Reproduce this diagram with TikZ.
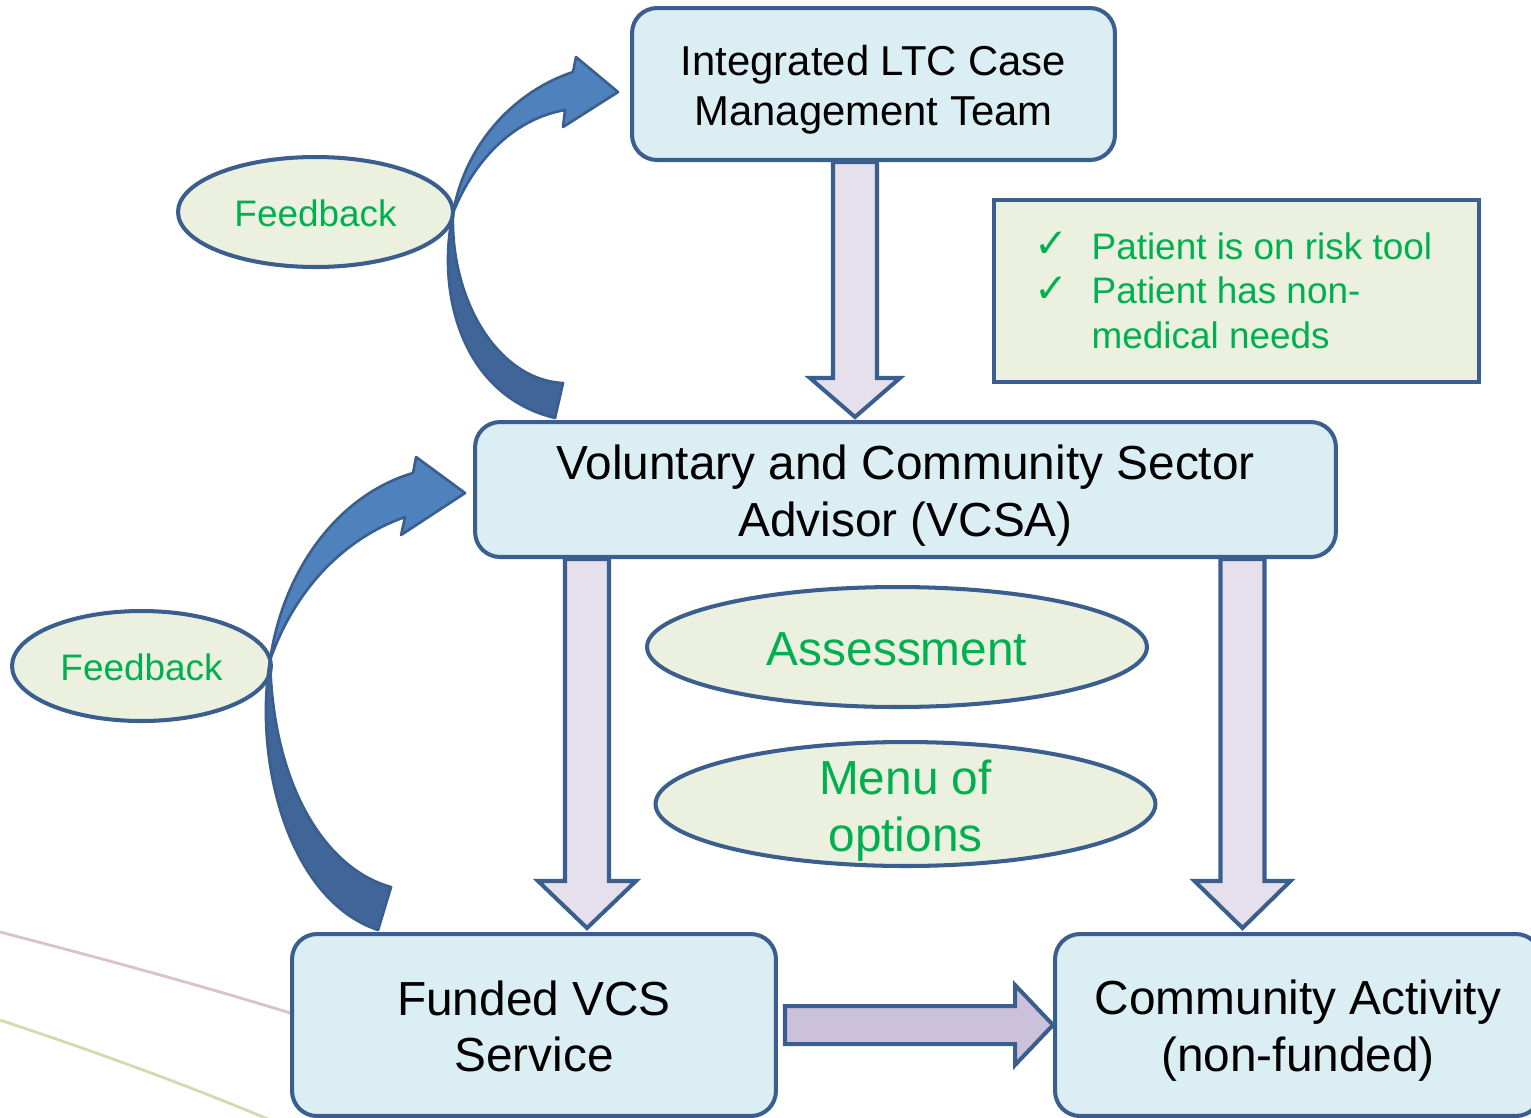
\documentclass[tikz,border=0pt]{standalone}
\usepackage{fontspec}
\setmainfont{Liberation Sans}
\newfontfamily\symfont{DejaVu Sans}
\usetikzlibrary{calc,shapes.geometric}

\definecolor{edgeblue}{HTML}{3A5F8E}
\definecolor{boxfill}{HTML}{DBEEF4}
\definecolor{notefill}{HTML}{EBF1DE}
\definecolor{txtgreen}{HTML}{00B050}
\definecolor{dnfill}{HTML}{E5E0EC}
\definecolor{rtfill}{HTML}{CCC1DA}
\definecolor{curvelight}{HTML}{4F81BD}
\definecolor{curvedark}{HTML}{3F6599}
\definecolor{swishpink}{HTML}{D9C2CD}
\definecolor{swishgreen}{HTML}{D3DAAE}

\newcommand{\bigtext}{\fontsize{27.2}{32.3}\selectfont}
\newcommand{\midtext}{\fontsize{23.8}{28.3}\selectfont}
\newcommand{\smalltext}{\fontsize{21}{25.5}\selectfont}

\tikzset{
  stagebox/.style={draw=edgeblue, line width=2.3pt, fill=boxfill, rounded corners=0.5cm,
    inner sep=0pt},
  stagetext/.style={align=center, inner sep=0pt, font=\bigtext},
  notebox/.style={draw=edgeblue, line width=2.3pt, fill=notefill, inner sep=0pt},
  bubble/.style={ellipse, draw=edgeblue, line width=2.3pt, fill=notefill, inner sep=0pt},
  bubbletext/.style={text=txtgreen, align=center, inner sep=0pt, font=\bigtext},
  blockdn/.style={draw=edgeblue, line width=2.3pt, fill=dnfill, line join=miter},
  blockrt/.style={draw=edgeblue, line width=2.3pt, fill=rtfill, line join=miter},
  bendup/.style={draw=edgeblue, line width=1.5pt, fill=curvelight, line join=round},
  benddown/.style={draw=edgeblue, line width=1.5pt, fill=curvedark, line join=round},
}

% Vertical block arrow: #1 start, #2 tip, #3 head length, #4 head half-width
\newcommand{\blockdown}[4]{%
  \filldraw[blockdn] ($(#1)+(-22,0)$) -- ($(#2)+(-22,-#3)$) -- ($(#2)+(-#4,-#3)$) -- (#2)
    -- ($(#2)+(#4,-#3)$) -- ($(#2)+(22,-#3)$) -- ($(#1)+(22,0)$) -- cycle;}

\newcommand{\tick}{\makebox[32.3pt][l]{\raisebox{1pt}{\symfont\fontsize{23}{25}\selectfont ✓}}}

\begin{document}
\begin{tikzpicture}[x=0.02cm, y=-0.02cm]
\useasboundingbox (0,0) rectangle (1531,1117);

% faint background swishes
\draw[swishpink, line width=1.6pt] (0,932) .. controls (100,958) and (200,985) .. (300,1016);
\draw[swishgreen, line width=1.6pt] (0,1020) .. controls (90,1050) and (180,1082) .. (275,1122);

% stages
\node[stagebox, minimum width=9.66cm, minimum height=3.04cm] (lead) at (873.5,84) {};
\node[stagetext, font=\midtext] (lead-t) at ($(lead)+(0,6)$) {Integrated LTC Case\\ Management Team};
\node[stagebox, minimum width=17.22cm, minimum height=2.7cm] (vcsa) at (905.5,489.5) {};
\node[stagetext] (vcsa-t) at ($(vcsa)+(0,6)$) {Voluntary and Community Sector\\ Advisor (VCSA)};
\node[stagebox, minimum width=9.68cm, minimum height=3.64cm] (funded) at (534,1025) {};
\node[stagetext] (funded-t) at ($(funded)+(0,1.5)$) {Funded VCS\\ Service};
\node[stagebox, minimum width=9.72cm, minimum height=3.64cm] (community) at (1298,1025) {};
\node[stagetext] (community-t) at ($(community)+(0,5.5)$) {Community Activity\\ (non-funded)};

% eligibility note
\node[notebox, minimum width=9.7cm, minimum height=3.64cm] (criteria) at (1236.5,291) {};
\node[text=txtgreen, font=\smalltext, inner sep=0pt] (criteria-t) at ($(criteria)+(-3,4)$)
  {\begin{tabular}{@{}l@{}l@{}}
   \tick & Patient is on risk tool\\
   \tick & Patient has non-\\
   & medical needs
  \end{tabular}};

% bubbles
\node[bubble, minimum width=5.5cm, minimum height=2.2cm] (fb1) at (315.5,212) {};
\node[bubbletext, font=\fontsize{21}{25}\selectfont] (fb1t) at ($(fb1)+(0,1)$) {Feedback};
\node[bubble, minimum width=5.18cm, minimum height=2.2cm] (fb2) at (141.5,666) {};
\node[bubbletext, font=\fontsize{21}{25}\selectfont] (fb2t) at ($(fb2)+(0,1)$) {Feedback};
\node[bubble, minimum width=10cm, minimum height=2.4cm] (assess) at (897,647) {};
\node[bubbletext] (assesst) at ($(assess)+(0,2)$) {Assessment};
\node[bubble, minimum width=10cm, minimum height=2.48cm] (menu) at (905.5,804) {};
\node[bubbletext] (menut) at ($(menu)+(0,7)$) {Menu of\\ options};

% downward block arrows
\coordinate (d1s) at ($(lead.south)+(-18.5,0)$);
\coordinate (d1e) at ($(d1s |- vcsa.north)+(0,-3)$);
\blockdown{d1s}{d1e}{39}{45}
\coordinate (d2s) at ($(vcsa.south)+(-318.5,0)$);
\coordinate (d2e) at ($(d2s |- funded.north)+(0,-4)$);
\blockdown{d2s}{d2e}{47}{49}
\coordinate (d3s) at ($(vcsa.south)+(337,0)$);
\coordinate (d3e) at ($(d3s |- community.north)+(0,-4)$);
\blockdown{d3s}{d3e}{47}{48}

% sideways block arrow
\coordinate (rs) at ($(funded.east)+(7,0)$);
\coordinate (re) at (community.west);
\filldraw[blockrt] ($(rs)+(0,-19)$) -- ($(re)+(-38,-19)$) -- ($(re)+(-38,-40)$) -- (re)
  -- ($(re)+(-38,40)$) -- ($(re)+(-38,19)$) -- ($(rs)+(0,19)$) -- cycle;

% feedback loop: VCSA -> case management team
\coordinate (fb1tip) at ($(lead.west)+(-12,8)$);
\begin{scope}[shift={(fb1tip)}]
  \filldraw[benddown] (-165,121) .. controls (-182,198) and (-158,303) .. (-63,326)
    -- (-55,291) .. controls (-120,288) and (-168,208) .. cycle;
  \filldraw[bendup] (-165,121) .. controls (-152,48) and (-100,-2) .. (-45,-20)
    -- (-42,-35) -- (0,0) -- (-55,35) -- (-53,18)
    .. controls (-100,26) and (-142,63) .. cycle;
\end{scope}

% feedback loop: funded service -> VCSA
\coordinate (fb2tip) at ($(vcsa.west)+(-8,3.5)$);
\begin{scope}[shift={(fb2tip)}]
  \filldraw[benddown] (-195,167) .. controls (-212,267) and (-177,407) .. (-87,437)
    -- (-74,394) .. controls (-137,377) and (-192,297) .. cycle;
  \filldraw[bendup] (-195,167) .. controls (-182,77) and (-127,2) .. (-52,-20)
    -- (-49,-36) -- (0,0) -- (-64,42) -- (-60,24)
    .. controls (-112,42) and (-167,87) .. cycle;
\end{scope}
\end{tikzpicture}
\end{document}
